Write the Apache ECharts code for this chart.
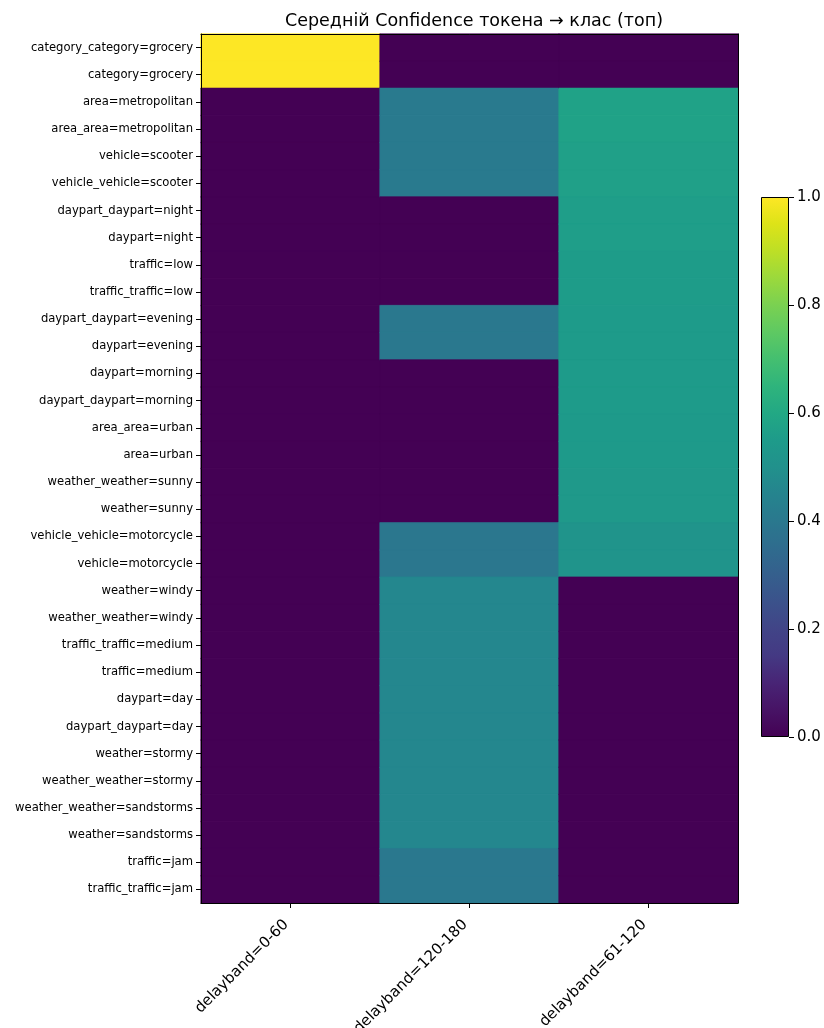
<!DOCTYPE html>
<html>
<head>
<meta charset="utf-8">
<script src="https://cdn.jsdelivr.net/npm/echarts@6/dist/echarts.min.js"></script>
<style>
  html, body { margin: 0; padding: 0; background: #fff; }
  #chart { width: 824px; height: 1028px; }
</style>
</head>
<body>
<div id="chart"></div>
<script>
// Token rows (top to bottom)
const rowLabels = [
  'category_category=grocery', 'category=grocery',
  'area=metropolitan', 'area_area=metropolitan',
  'vehicle=scooter', 'vehicle_vehicle=scooter',
  'daypart_daypart=night', 'daypart=night',
  'traffic=low', 'traffic_traffic=low',
  'daypart_daypart=evening', 'daypart=evening',
  'daypart=morning', 'daypart_daypart=morning',
  'area_area=urban', 'area=urban',
  'weather_weather=sunny', 'weather=sunny',
  'vehicle_vehicle=motorcycle', 'vehicle=motorcycle',
  'weather=windy', 'weather_weather=windy',
  'traffic_traffic=medium', 'traffic=medium',
  'daypart=day', 'daypart_daypart=day',
  'weather=stormy', 'weather_weather=stormy',
  'weather_weather=sandstorms', 'weather=sandstorms',
  'traffic=jam', 'traffic_traffic=jam'
];

// Class columns (left to right)
const colLabels = ['delayband=0-60', 'delayband=120-180', 'delayband=61-120'];

// Mean confidence per token, one array per class column
const conf_0_60 = [
  1.0, 1.0,
  0, 0, 0, 0, 0, 0, 0, 0, 0, 0, 0, 0, 0, 0, 0, 0, 0, 0,
  0, 0, 0, 0, 0, 0, 0, 0, 0, 0, 0, 0
];
const conf_120_180 = [
  0, 0,
  0.41, 0.41, 0.41, 0.41,
  0, 0, 0, 0,
  0.40, 0.40,
  0, 0, 0, 0, 0, 0,
  0.395, 0.395,
  0.46, 0.46, 0.46, 0.46, 0.46, 0.46, 0.46, 0.46, 0.46, 0.46,
  0.40, 0.40
];
const conf_61_120 = [
  0, 0,
  0.575, 0.575, 0.57, 0.57,
  0.56, 0.56, 0.555, 0.555,
  0.55, 0.55, 0.55, 0.55, 0.545, 0.545, 0.54, 0.54,
  0.515, 0.515,
  0, 0, 0, 0, 0, 0, 0, 0, 0, 0, 0, 0
];

// Colorbar scale and tick step
const colorbarRange = [0, 1];
const colorbarStep = 0.2;

// Viridis colour ramp
const viridis = [
  '#440154', '#471365', '#482475', '#443983', '#414487', '#3b528b',
  '#355f8d', '#2f6c8e', '#2a788e', '#25848e', '#21918c', '#1e9b8a',
  '#22a884', '#2fb47c', '#44bf70', '#5ec962', '#7ad151', '#9bd93c',
  '#bddf26', '#dde318', '#fde725'
];

const columns = [conf_0_60, conf_120_180, conf_61_120];
const span = colorbarRange[1] - colorbarRange[0];
const cells = [];
columns.forEach((col, j) => {
  col.forEach((v, i) => {
    // edge stroke in the cell's own colour closes the hairline seams between rows
    const edge = echarts.color.lerp((v - colorbarRange[0]) / span, viridis);
    cells.push({ value: [j, i, v], itemStyle: { borderColor: edge, borderWidth: 0.6 } });
  });
});

const font = 'DejaVu Sans';
const ink = '#000';

const chart = echarts.init(document.getElementById('chart'), null, { renderer: 'canvas' });

const gradientStops = viridis.map((c, k) => ({ offset: k / (viridis.length - 1), color: c }));

chart.setOption({
  animation: false,
  backgroundColor: '#fff',
  title: {
    text: 'Середній Confidence токена → клас (топ)',
    left: 469,
    top: 7,
    textAlign: 'center',
    textStyle: { fontFamily: font, fontSize: 17.5, fontWeight: 'normal', color: ink }
  },
  grid: [
    { left: 201, top: 34, width: 537, height: 869, containLabel: false, outerBoundsMode: 'none' },
    { left: 761, top: 197, width: 28, height: 540, containLabel: false, outerBoundsMode: 'none' }
  ],
  xAxis: [
    {
      gridIndex: 0, type: 'category', data: colLabels, position: 'bottom', z: 5,
      axisLine: { show: true, lineStyle: { color: ink, width: 1 } },
      axisTick: { show: true, alignWithLabel: true, length: 5, lineStyle: { color: ink } },
      axisLabel: {
        rotate: 45, margin: 15, padding: [0, 6, 0, 0],
        fontFamily: font, fontSize: 15, color: ink
      },
      splitLine: { show: false }
    },
    {
      gridIndex: 0, type: 'category', data: colLabels, position: 'top', z: 5,
      axisLine: { show: true, lineStyle: { color: ink, width: 1 } },
      axisTick: { show: false }, axisLabel: { show: false }, splitLine: { show: false }
    },
    {
      gridIndex: 1, type: 'category', data: [''], show: false
    }
  ],
  yAxis: [
    {
      gridIndex: 0, type: 'category', data: rowLabels, inverse: true, position: 'left', z: 5,
      axisLine: { show: true, lineStyle: { color: ink, width: 1 } },
      axisTick: { show: true, alignWithLabel: true, length: 5, lineStyle: { color: ink } },
      axisLabel: { margin: 8, fontFamily: font, fontSize: 11.6, color: ink },
      splitLine: { show: false }
    },
    {
      gridIndex: 0, type: 'category', data: rowLabels, inverse: true, position: 'right', z: 5,
      axisLine: { show: true, lineStyle: { color: ink, width: 1 } },
      axisTick: { show: false }, axisLabel: { show: false }, splitLine: { show: false }
    },
    {
      gridIndex: 1, type: 'value', position: 'right',
      min: colorbarRange[0], max: colorbarRange[1], interval: colorbarStep, z: 5,
      axisLine: { show: false },
      axisTick: { show: true, length: 5, lineStyle: { color: ink } },
      axisLabel: {
        margin: 8, fontFamily: font, fontSize: 15, color: ink,
        formatter: v => v.toFixed(1)
      },
      splitLine: { show: false }
    }
  ],
  visualMap: {
    show: false,
    type: 'continuous',
    min: colorbarRange[0],
    max: colorbarRange[1],
    dimension: 2,
    seriesIndex: 0,
    inRange: { color: viridis }
  },
  series: [
    {
      type: 'heatmap',
      xAxisIndex: 0,
      yAxisIndex: 0,
      data: cells,
      emphasis: { disabled: true }
    },
    {
      type: 'bar',
      xAxisIndex: 2,
      yAxisIndex: 2,
      data: [colorbarRange[1]],
      barWidth: '100%',
      silent: true,
      itemStyle: {
        color: new echarts.graphic.LinearGradient(0, 1, 0, 0, gradientStops),
        borderColor: ink,
        borderWidth: 1
      }
    }
  ]
});
</script>
</body>
</html>
